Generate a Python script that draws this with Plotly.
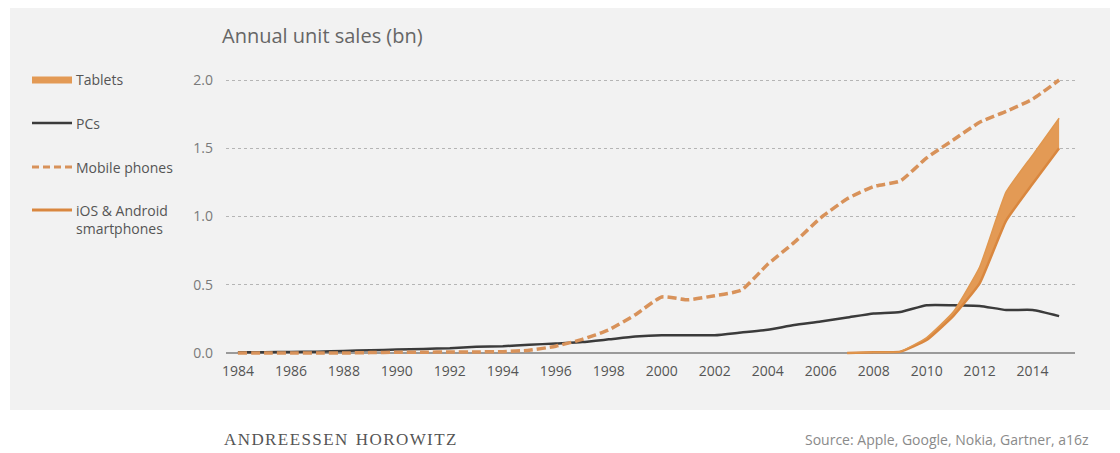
import plotly.graph_objects as go

years = list(range(1984, 2016))
pcs = [0.005, 0.006, 0.008, 0.01, 0.015, 0.02, 0.025, 0.03, 0.035, 0.045, 0.05, 0.06,
       0.07, 0.08, 0.10, 0.12, 0.13, 0.13, 0.13, 0.15, 0.17, 0.205, 0.23, 0.26,
       0.29, 0.30, 0.35, 0.35, 0.345, 0.315, 0.315, 0.27]
mobile = [0.0, 0.0, 0.0, 0.0, 0.0, 0.003, 0.005, 0.006, 0.007, 0.008, 0.01, 0.02,
          0.05, 0.10, 0.17, 0.28, 0.41, 0.39, 0.42, 0.46, 0.65, 0.81, 0.99, 1.13,
          1.22, 1.26, 1.43, 1.56, 1.69, 1.77, 1.86, 2.0]
sp_years = [2007, 2008, 2009, 2010, 2011, 2012, 2013, 2014, 2015]
smartphones = [0.0, 0.005, 0.01, 0.095, 0.27, 0.51, 0.97, 1.24, 1.50]
tablets = [0.0, 0.0, 0.0, 0.018, 0.03, 0.12, 0.21, 0.21, 0.22]
sp_plus_tab = [a + b for a, b in zip(smartphones, tablets)]

y_ticks = [0.0, 0.5, 1.0, 1.5, 2.0]
y_ticklabels = ["0.0", "0.5", "1.0", "1.5", "2.0"]
x_ticks = list(range(1984, 2015, 2))

ORANGE = "#D8925A"
FILL = "#E39A55"
DARK = "#3b3b3b"
FONT = "Open Sans"
DASH = "9px,4px"

fig = go.Figure()
fig.add_trace(go.Scatter(x=years, y=pcs, mode="lines", line=dict(color=DARK, width=2.5, shape="spline", smoothing=0.5),
                         showlegend=False))
fig.add_trace(go.Scatter(x=years, y=mobile, mode="lines",
                         line=dict(color=ORANGE, width=3.5, dash=DASH, shape="spline", smoothing=0.5),
                         showlegend=False))
fig.add_trace(go.Scatter(x=sp_years, y=smartphones, mode="lines",
                         line=dict(color="#D9873F", width=2.5, shape="spline", smoothing=0.4),
                         showlegend=False))
fig.add_trace(go.Scatter(x=sp_years, y=sp_plus_tab, mode="lines", fill="tonexty", fillcolor=FILL,
                         line=dict(color="#E0974F", width=1.5, shape="spline", smoothing=0.4),
                         showlegend=False))

# page has an 8px body margin: work in page pixel coordinates
OFF = 8
PL, PR, PT, PB = 226, 1075, 73, 356   # plot area in page pixels
FW, FH = 1120 - OFF, 453 - OFF
L = PL - OFF
T = PT - OFF
W = PR - PL
H = PB - PT
R = FW - L - W
B = FH - T - H

def px(x):
    return (x - PL) / W
def py(y):
    return (PB - y) / H

shapes = [
    dict(type="rect", xref="paper", yref="paper", x0=px(10), x1=px(1110), y0=py(410), y1=py(8),
         fillcolor="#f2f2f2", line=dict(width=0), layer="below"),
    dict(type="line", xref="paper", yref="paper", x0=px(32), x1=px(72), y0=py(80), y1=py(80),
         line=dict(color=FILL, width=7)),
    dict(type="line", xref="paper", yref="paper", x0=px(32), x1=px(72), y0=py(123), y1=py(123),
         line=dict(color=DARK, width=2.5)),
    dict(type="line", xref="paper", yref="paper", x0=px(32), x1=px(72), y0=py(167), y1=py(167),
         line=dict(color=ORANGE, width=3, dash="7px,4px")),
    dict(type="line", xref="paper", yref="paper", x0=px(32), x1=px(72), y0=py(210), y1=py(210),
         line=dict(color="#D9873F", width=3)),
]

legend_items = [("Tablets", 80), ("PCs", 123), ("Mobile phones", 167), ("iOS & Android", 210), ("smartphones", 229)]
annotations = []
for txt, yy in legend_items:
    annotations.append(dict(text=txt, xref="paper", yref="paper", x=px(74), y=py(yy), xanchor="left",
                            yanchor="middle", showarrow=False, font=dict(family=FONT, size=14, color="#555555")))
annotations.append(dict(text="Annual unit sales (bn)", xref="paper", yref="paper", x=px(220), y=py(36),
                        xanchor="left", yanchor="middle", showarrow=False,
                        font=dict(family=FONT, size=20, color="#666666")))
hs = "\u200a"
brand = "  ".join(hs.join(w) for w in ["ANDREESSEN", "HOROWITZ"])
annotations.append(dict(text=brand, xref="paper", yref="paper", x=px(222), y=py(440),
                        xanchor="left", yanchor="middle", showarrow=False,
                        font=dict(family="Liberation Serif", size=17, color="#555555")))
annotations.append(dict(text="Source: Apple, Google, Nokia, Gartner, a16z", xref="paper", yref="paper",
                        x=px(1091), y=py(440), xanchor="right", yanchor="middle", showarrow=False,
                        font=dict(family=FONT, size=14, color="#8a8a8a")))

fig.update_layout(
    width=FW, height=FH,
    margin=dict(l=L, r=R, t=T, b=B),
    paper_bgcolor="white", plot_bgcolor="rgba(0,0,0,0)",
    shapes=shapes, annotations=annotations, showlegend=False,
    font=dict(family=FONT),
)
fig.update_xaxes(range=[1983.55, 2015.6], tickvals=x_ticks, ticktext=[str(v) for v in x_ticks],
                 showgrid=False, zeroline=False, showline=False, ticks="",
                 tickfont=dict(family=FONT, size=14, color="#555555"), ticklabelstandoff=5)
fig.update_yaxes(range=[-0.022, 2.0513], tickvals=y_ticks, ticktext=y_ticklabels,
                 showgrid=True, gridcolor="#b5b5b5", griddash="dot", gridwidth=1,
                 zeroline=True, zerolinecolor="#9a9a9a", zerolinewidth=1.5, showline=False, ticks="",
                 tickfont=dict(family=FONT, size=14, color="#7a7a7a"), ticklabelstandoff=12)

fig.write_html("out.html")
